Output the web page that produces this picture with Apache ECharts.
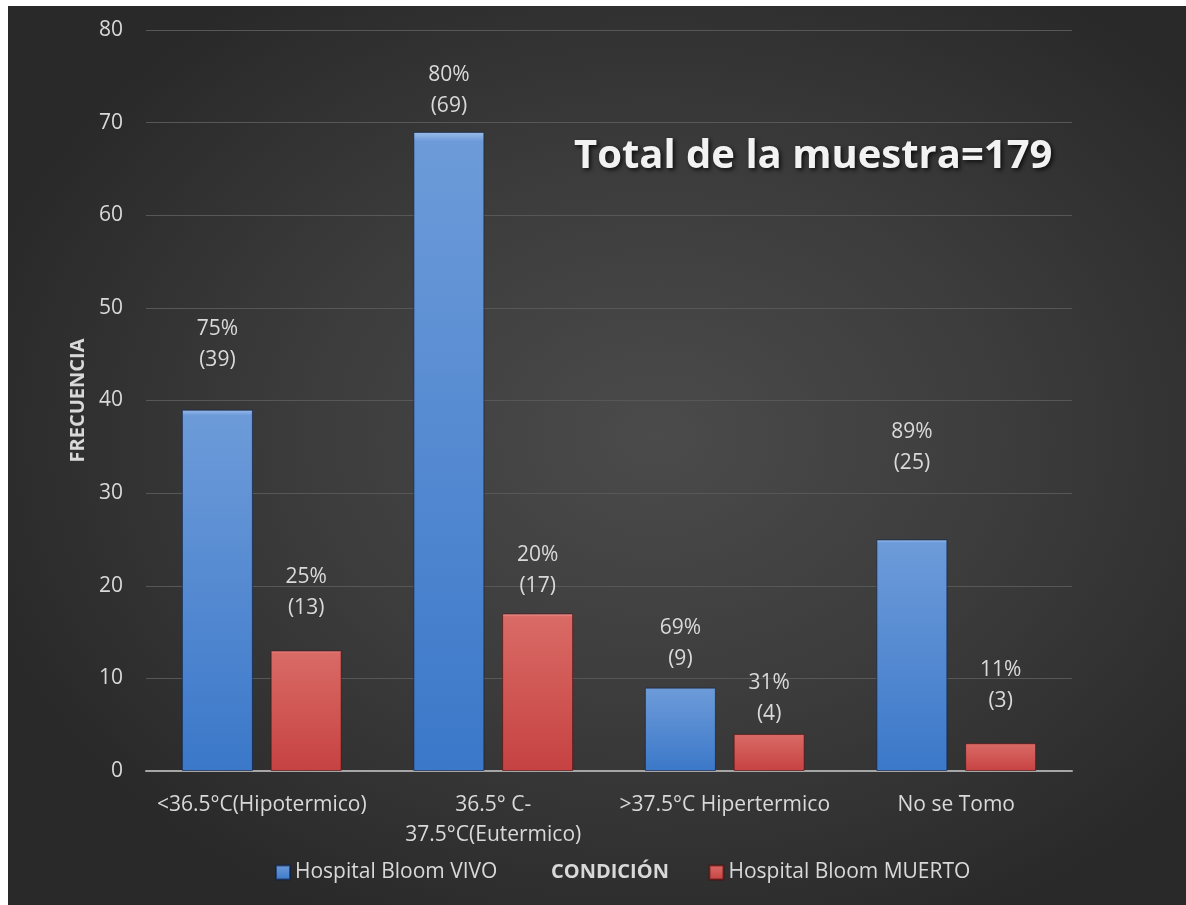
<!DOCTYPE html>
<html>
<head>
<meta charset="utf-8">
<script src="https://cdn.jsdelivr.net/npm/echarts@6/dist/echarts.min.js"></script>
<style>
  html, body { margin: 0; padding: 0; background: #ffffff; }
  #chart {
    position: absolute;
    left: 8px;
    top: 6px;
    width: 1178px;
    height: 899px;
    background: radial-gradient(ellipse 60% 60% at 55% 48%, #4b4b4b 0%, #3c3c3c 50%, #292929 100%);
  }
</style>
</head>
<body>
<div id="chart"></div>
<script>
// datos
var categories = ['<36.5°C(Hipotermico)', '36.5° C-\n37.5°C(Eutermico)', '>37.5°C Hipertermico', 'No se Tomo'];
var vivo = [39, 69, 9, 25];
var muerto = [13, 17, 4, 3];
var vivoPct = [75, 80, 69, 89];
var muertoPct = [25, 20, 31, 11];
var seriesNames = ['Hospital Bloom VIVO', 'Hospital Bloom MUERTO'];
var yMin = 0, yMax = 80, yStep = 10;

// separacion de etiquetas (estilo, colocadas a mano en el original)
var vivoLabelGap = [34, 10, 13, 61];
var muertoLabelGap = [27, 12, 4, 27];

var textColor = '#d9d9d9';
var font = '"Open Sans", "DejaVu Sans", sans-serif';

function barData(values, pct, gaps) {
  return values.map(function (v, i) {
    return {
      value: v,
      label: { distance: gaps[i], formatter: pct[i] + '%\n(' + v + ')' }
    };
  });
}

var blueFill = new echarts.graphic.LinearGradient(0, 0, 0, 1, [
  { offset: 0, color: '#9bbdea' },
  { offset: 0.015, color: '#6d9bd9' },
  { offset: 1, color: '#3b78c9' }
]);
var redFill = new echarts.graphic.LinearGradient(0, 0, 0, 1, [
  { offset: 0, color: '#eda39f' },
  { offset: 0.02, color: '#d96a65' },
  { offset: 1, color: '#c64242' }
]);

var myChart = echarts.init(document.getElementById('chart'));
myChart.setOption({
  backgroundColor: 'transparent',
  textStyle: { fontFamily: font },
  title: {
    text: 'Total de la muestra=179',
    left: 566,
    top: 131,
    padding: 0,
    textStyle: {
      color: '#f2f2f2',
      fontSize: 40,
      fontWeight: 'bold',
      fontFamily: font,
      textShadowColor: 'rgba(0,0,0,0.75)',
      textShadowBlur: 4,
      textShadowOffsetX: 2,
      textShadowOffsetY: 2
    }
  },
  grid: { left: 138, right: 114, top: 24, bottom: 134, containLabel: false },
  legend: {
    data: seriesNames,
    left: 262,
    top: 851,
    itemWidth: 14,
    itemHeight: 14,
    itemGap: 211,
    icon: 'rect',
    textStyle: { color: textColor, fontSize: 21, fontFamily: font }
  },
  graphic: [{
    type: 'text',
    left: 543,
    top: 856,
    style: {
      text: 'CONDICIÓN',
      fill: textColor,
      font: 'bold 20px ' + font
    }
  }],
  xAxis: {
    type: 'category',
    data: categories,
    axisLine: { lineStyle: { color: '#a6a6a6', width: 2 } },
    axisTick: { show: false },
    axisLabel: {
      color: textColor,
      fontSize: 21,
      lineHeight: 30,
      margin: 19,
      interval: 0
    }
  },
  yAxis: {
    type: 'value',
    min: yMin,
    max: yMax,
    interval: yStep,
    name: 'FRECUENCIA',
    nameLocation: 'middle',
    nameGap: 58,
    nameTextStyle: { color: textColor, fontSize: 20, fontWeight: 'bold' },
    axisLine: { show: false },
    axisTick: { show: false },
    axisLabel: { color: textColor, fontSize: 21, margin: 23 },
    splitLine: { lineStyle: { color: '#575757', width: 1 } }
  },
  series: [
    {
      name: seriesNames[0],
      type: 'bar',
      barWidth: 71,
      barGap: '25%',
      data: barData(vivo, vivoPct, vivoLabelGap),
      itemStyle: { color: blueFill, borderColor: 'rgba(10,30,70,0.6)', borderWidth: 1 },
      label: { show: true, position: 'top', color: textColor, fontSize: 21, lineHeight: 31 }
    },
    {
      name: seriesNames[1],
      type: 'bar',
      barWidth: 71,
      data: barData(muerto, muertoPct, muertoLabelGap),
      itemStyle: { color: redFill, borderColor: 'rgba(80,10,10,0.6)', borderWidth: 1 },
      label: { show: true, position: 'top', color: textColor, fontSize: 21, lineHeight: 31 }
    }
  ]
});
</script>
</body>
</html>
